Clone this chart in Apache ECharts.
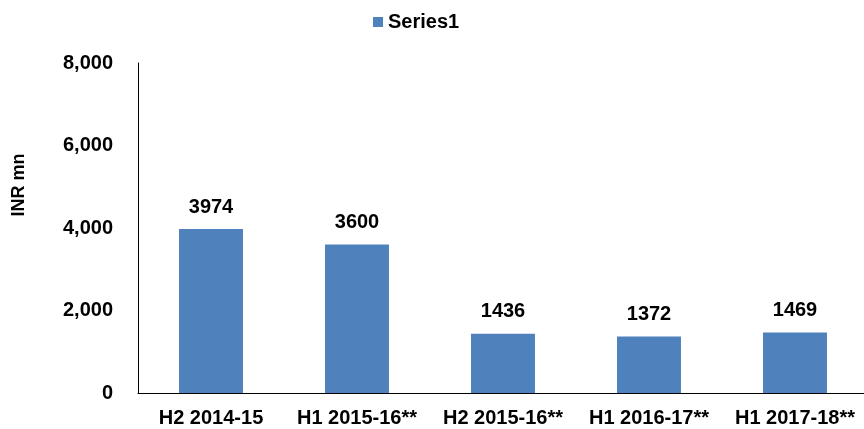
<!DOCTYPE html>
<html>
<head>
<meta charset="utf-8">
<script src="https://cdn.jsdelivr.net/npm/echarts@6/dist/echarts.min.js"></script>
<style>
  html, body { margin: 0; padding: 0; background: #fff; overflow: hidden; }
  #chart { width: 868px; height: 429px; }
</style>
</head>
<body>
<div id="chart"></div>
<script>
var categories = ['H2 2014-15', 'H1 2015-16**', 'H2 2015-16**', 'H1 2016-17**', 'H1 2017-18**'];
var seriesName = 'Series1';
var values = [3974, 3600, 1436, 1372, 1469];
var yTicks = [0, 2000, 4000, 6000, 8000];

var font = 'Liberation Sans, Arial, sans-serif';
// plot area runs a few px past the right edge of the window, like the original
var chart = echarts.init(document.getElementById('chart'));

chart.setOption({
	animation: false,
	legend: {
		data: [seriesName],
		left: 368,
		top: 7,
		itemWidth: 10,
		itemHeight: 10,
		itemGap: 5,
		icon: 'rect',
		textStyle: { fontFamily: font, fontWeight: 'bold', fontSize: 20, color: '#000' }
	},
	grid: {
		left: 138,
		top: 63,
		right: 0,
		height: 330
	},
	xAxis: {
		type: 'category',
		data: categories,
		axisLine: { lineStyle: { color: '#000', width: 1 } },
		axisTick: { show: false },
		axisLabel: {
			interval: 0,
			margin: 15,
			fontFamily: font,
			fontWeight: 'bold',
			fontSize: 20,
			color: '#000'
		}
	},
	yAxis: {
		type: 'value',
		min: yTicks[0],
		max: yTicks[yTicks.length - 1],
		interval: 2000,
		name: 'INR mn',
		nameLocation: 'middle',
		nameGap: 110,
		nameTextStyle: {
			fontFamily: font,
			fontWeight: 'bold',
			fontSize: 18,
			color: '#000',
			padding: [0, 0, 0, 86]
		},
		axisLine: { show: true, lineStyle: { color: '#000', width: 1 } },
		axisTick: { show: false },
		splitLine: { show: false },
		axisLabel: {
			margin: 25,
			fontFamily: font,
			fontWeight: 'bold',
			fontSize: 20,
			color: '#000',
			formatter: function(v) {
				return v.toLocaleString('en-US');
			}
		}
	},
	series: [{
		name: seriesName,
		type: 'bar',
		data: values,
		barWidth: '43.8%',
		itemStyle: { color: '#4F81BD' },
		label: {
			show: true,
			position: 'top',
			distance: 12,
			fontFamily: font,
			fontWeight: 'bold',
			fontSize: 20,
			color: '#000'
		}
	}]
});
</script>
</body>
</html>
